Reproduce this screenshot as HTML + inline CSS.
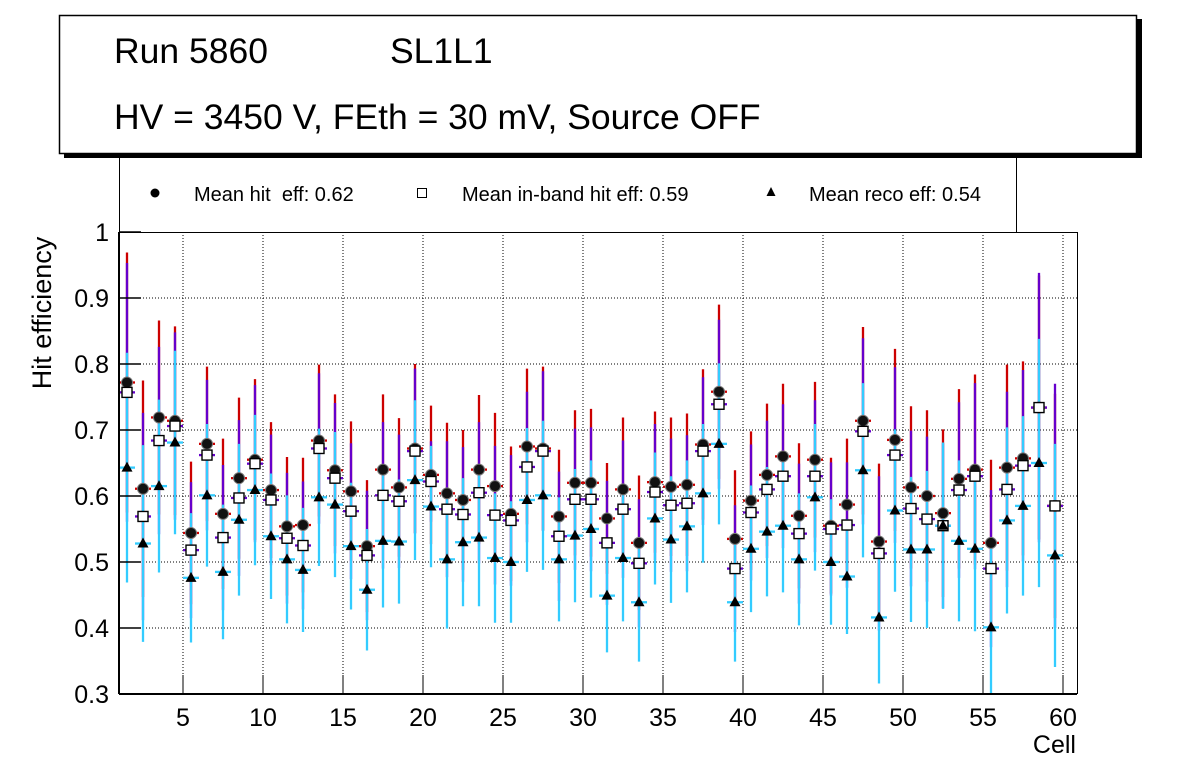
<!DOCTYPE html>
<html><head><meta charset="utf-8"><style>
html,body{margin:0;padding:0;background:#fff;}
svg{display:block;font-family:"Liberation Sans",sans-serif;}
</style></head><body>
<svg id="chart" width="1196" height="772" viewBox="0 0 1196 772">
<rect x="0" y="0" width="1196" height="772" fill="#fff"/>
<g id="grid"></g>
<g id="bars"></g>
<g id="marks"></g>
<g id="axes"></g>
<g>
  <line x1="119.5" y1="155" x2="119.5" y2="232" stroke="#000" stroke-width="1"/>
  <line x1="1016.5" y1="155" x2="1016.5" y2="232" stroke="#000" stroke-width="1"/>
  <circle cx="155" cy="193" r="4.5" fill="#000"/>
  <text x="194" y="201" font-size="20" xml:space="preserve">Mean hit  eff: 0.62</text>
  <rect x="417.5" y="188.5" width="9" height="9" fill="#fff" stroke="#000" stroke-width="1"/>
  <text x="462" y="201" font-size="20">Mean in-band hit eff: 0.59</text>
  <polygon points="771,187 775.5,196 766.5,196" fill="#000"/>
  <text x="809" y="201" font-size="20">Mean reco eff: 0.54</text>
</g>
<g>
  <rect x="64" y="19" width="1078" height="139" fill="#000"/>
  <rect x="59.5" y="15.5" width="1077" height="138" fill="#fff" stroke="#000" stroke-width="1.5"/>
  <text x="114" y="63" font-size="35.5">Run 5860</text>
  <text x="390" y="63" font-size="35.5">SL1L1</text>
  <text x="114" y="129" font-size="35.5">HV = 3450 V, FEth = 30 mV, Source OFF</text>
</g>
<text x="0" y="0" font-size="27" text-anchor="middle" transform="translate(51,313) rotate(-90)">Hit efficiency</text>
<text x="1076" y="753" font-size="25" text-anchor="end">Cell</text>
</svg>
<script>
const cells = Array.from({length:59},(_,i)=>i+1);
const hitEff = [0.772,0.611,0.719,0.714,0.544,0.679,0.573,0.627,0.655,0.609,0.554,0.556,0.684,0.639,0.607,0.524,0.640,0.613,0.672,0.632,0.604,0.594,0.640,0.615,0.573,0.675,0.672,0.569,0.620,0.620,0.566,0.610,0.529,0.621,0.614,0.617,0.678,0.758,0.535,0.593,0.632,0.660,0.570,0.655,0.555,0.587,0.714,0.531,0.685,0.613,0.600,0.574,0.626,0.640,0.529,0.643,0.657,0.734,0.585];
const hitErr = [0.197,0.164,0.147,0.143,0.108,0.117,0.114,0.122,0.122,0.103,0.105,0.102,0.115,0.115,0.106,0.100,0.114,0.105,0.128,0.105,0.107,0.106,0.113,0.111,0.102,0.118,0.124,0.101,0.110,0.112,0.084,0.109,0.102,0.107,0.105,0.108,0.114,0.132,0.104,0.105,0.108,0.110,0.110,0.118,0.103,0.100,0.142,0.118,0.138,0.123,0.130,0.127,0.136,0.144,0.126,0.156,0.147,0.200,0.170];
const inbandEff = [0.757,0.569,0.684,0.706,0.518,0.662,0.537,0.597,0.649,0.594,0.536,0.525,0.672,0.627,0.577,0.510,0.601,0.592,0.668,0.622,0.580,0.572,0.605,0.571,0.563,0.644,0.668,0.539,0.595,0.595,0.529,0.580,0.498,0.606,0.586,0.589,0.668,0.739,0.490,0.575,0.610,0.630,0.543,0.630,0.550,0.556,0.698,0.513,0.662,0.581,0.565,0.555,0.609,0.630,0.490,0.610,0.646,0.734,0.585];
const inbandErr = [0.196,0.157,0.142,0.142,0.103,0.114,0.110,0.118,0.119,0.099,0.099,0.097,0.114,0.114,0.103,0.098,0.111,0.101,0.125,0.061,0.103,0.102,0.107,0.105,0.099,0.114,0.121,0.098,0.107,0.109,0.094,0.104,0.097,0.103,0.101,0.103,0.112,0.128,0.096,0.103,0.104,0.109,0.106,0.115,0.101,0.095,0.141,0.117,0.133,0.118,0.125,0.125,0.133,0.141,0.119,0.148,0.145,0.204,0.185];
const recoEff = [0.643,0.528,0.615,0.681,0.476,0.601,0.485,0.564,0.609,0.539,0.504,0.488,0.598,0.587,0.524,0.458,0.532,0.531,0.624,0.584,0.504,0.530,0.537,0.506,0.500,0.594,0.601,0.504,0.540,0.550,0.449,0.506,0.439,0.566,0.534,0.554,0.604,0.679,0.439,0.520,0.546,0.555,0.504,0.598,0.500,0.478,0.639,0.416,0.578,0.519,0.519,0.555,0.532,0.520,0.401,0.563,0.585,0.650,0.510];
const recoErr = [0.174,0.149,0.131,0.139,0.098,0.108,0.102,0.115,0.114,0.095,0.097,0.094,0.104,0.110,0.096,0.092,0.101,0.094,0.121,0.092,0.105,0.097,0.104,0.098,0.092,0.109,0.113,0.094,0.101,0.104,0.086,0.096,0.090,0.100,0.096,0.100,0.105,0.122,0.090,0.096,0.098,0.101,0.100,0.111,0.095,0.087,0.132,0.100,0.123,0.110,0.119,0.126,0.122,0.125,0.120,0.141,0.136,0.188,0.169];
const xTicks = [5,10,15,20,25,30,35,40,45,50,55,60];
const yTicks = [0.3,0.4,0.5,0.6,0.7,0.8,0.9,1];
const yTickLabels = ["0.3","0.4","0.5","0.6","0.7","0.8","0.9","1"];

const NS="http://www.w3.org/2000/svg";
const L=119, R=1077, T=232, B=694, XMIN=1, XMAX=60.875, YMIN=0.3, YMAX=1.0;
const xs=v=>L+(v-XMIN)/(XMAX-XMIN)*(R-L);
const ys=v=>B-(v-YMIN)/(YMAX-YMIN)*(B-T);
function mk(tag,attrs,parent){const e=document.createElementNS(NS,tag);for(const k in attrs)e.setAttribute(k,attrs[k]);parent.appendChild(e);return e;}
const grid=document.getElementById('grid'), bars=document.getElementById('bars'), marks=document.getElementById('marks'), axes=document.getElementById('axes');

xTicks.forEach(t=>{const x=xs(t);
  const g=mk('line',{x1:x,y1:T,x2:x,y2:B,stroke:'#000','stroke-width':1,'stroke-dasharray':'1,2'},grid);
  
  
  const tk=mk('line',{x1:x,y1:B,x2:x,y2:B-19,stroke:'#000','stroke-width':1},axes);
  
  
  const tx=mk('text',{x:x,y:726,'font-size':25,'text-anchor':'middle'},axes);
  tx.textContent=String(t);
  
  
});
yTicks.forEach((t,i)=>{const y=ys(t);
  if(i>0&&t<1){const g=mk('line',{x1:L,y1:y,x2:R,y2:y,stroke:'#000','stroke-width':1,'stroke-dasharray':'1,2'},grid);
    
    }
  const tk=mk('line',{x1:L,y1:y,x2:L+22,y2:y,stroke:'#000','stroke-width':1.5},axes);
  
  
  const tx=mk('text',{x:109,y:y+9,'font-size':25,'text-anchor':'end'},axes);
  tx.textContent=yTickLabels[i];
  
  
});
mk('line',{x1:L,y1:T+0.5,x2:R,y2:T+0.5,stroke:'#000','stroke-width':1},axes);
mk('line',{x1:R+0.5,y1:T,x2:R+0.5,y2:B,stroke:'#000','stroke-width':1},axes);
mk('line',{x1:L,y1:T,x2:L,y2:B,stroke:'#000','stroke-width':2},axes);
mk('line',{x1:L,y1:B,x2:R,y2:B,stroke:'#000','stroke-width':2},axes);

const series=[
 {v:hitEff,e:hitErr,c:'#cc0000',name:'hit'},
 {v:inbandEff,e:inbandErr,c:'#6600cc',name:'inband'},
 {v:recoEff,e:recoErr,c:'#33ccff',name:'reco'}];
series.forEach(s=>{cells.forEach((c,i)=>{
  const x=xs(c+0.5), y=ys(s.v[i]);
  const y1=Math.max(T,ys(s.v[i]+s.e[i])), y2=Math.min(B,ys(s.v[i]-s.e[i]));
  const vb=mk('line',{x1:x,y1:y1,x2:x,y2:y2,stroke:s.c,'stroke-width':2.3},bars);
  
  
  const hb=mk('line',{x1:xs(c),y1:y,x2:xs(c+1),y2:y,stroke:s.c,'stroke-width':2.3},bars);
  
  
});});
cells.forEach((c,i)=>{const x=xs(c+0.5);
  const y=ys(hitEff[i]);
  const m=mk('circle',{cx:x,cy:y,r:5.5,fill:'#111',stroke:'#777','stroke-width':1},marks);
  
  
});
cells.forEach((c,i)=>{const x=xs(c+0.5), y=ys(inbandEff[i]);
  const m=mk('rect',{x:x-5,y:y-5,width:10,height:10,fill:'#fff',stroke:'#000','stroke-width':1.4},marks);
  
  
});
cells.forEach((c,i)=>{const x=xs(c+0.5), y=ys(recoEff[i]);
  const m=mk('polygon',{points:`${x},${y-6} ${x+5.5},${y+4} ${x-5.5},${y+4}`,fill:'#000'},marks);
  
  
});
</script>
</body></html>
